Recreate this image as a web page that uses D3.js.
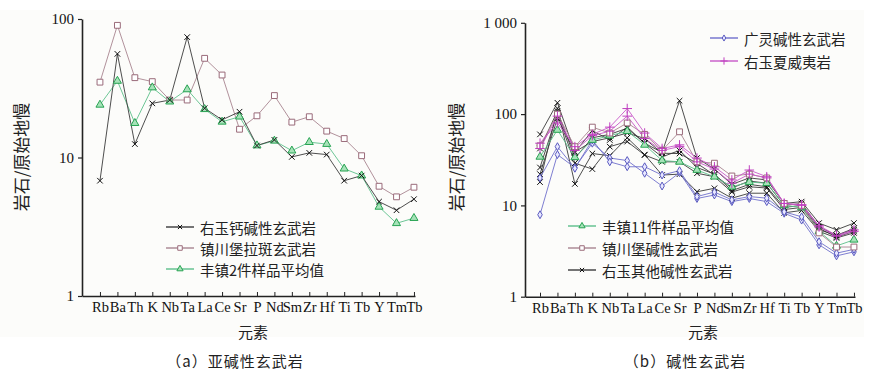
<!doctype html>
<html>
<head>
<meta charset="utf-8">
<script src="https://d3js.org/d3.v7.min.js"></script>
<style>
  body { margin: 0; background: #fff; }
  text { font-family: "Liberation Serif", "DejaVu Serif", serif; }
  .cjk { font-family: "Noto Sans CJK SC", sans-serif; }
</style>
</head>
<body>
<script>
  // 元素 (x 轴)
  var elements = ["Rb","Ba","Th","K","Nb","Ta","La","Ce","Sr","P","Nd","Sm","Zr","Hf","Ti","Tb","Y","Tm","Tb"];

  // (a) 亚碱性玄武岩
  var youyuCalcAlkaline = [6.8, 56, 12.5, 24.6, 26, 74, 22.7, 18.7, 21.4, 12.2, 13.4, 10.1, 10.8, 10.5, 6.8, 7.4, 4.8, 4.16, 5.0];
  var zhenchuanTholeiite = [35, 90, 37.7, 35.3, 26, 26, 52, 39.4, 16, 20, 28, 18, 19.7, 15.5, 13.7, 10.3, 6.2, 5.2, 6.1];
  var fengzhen2Avg = [24, 35.7, 17.7, 32, 25.3, 31, 22.3, 18.1, 19.7, 12.2, 13.2, 11.2, 12.9, 12.5, 8.3, 7.4, 4.4, 3.35, 3.65];

  // (b) 碱性玄武岩
  var guanglingA = [7.9, 36, 26, 48, 33, 31, 22.5, 16.3, 22.8, 11.9, 13, 11, 11.9, 11, 8.2, 6.9, 3.7, 2.8, 3.1];
  var guanglingB = [20, 44, 25.5, 52, 30, 26.5, 26.5, 21.5, 24, 12.5, 14, 11.5, 12.5, 12, 8.5, 7.5, 4.0, 3.0, 3.3];
  var youyuHawaiiteA = [48, 80, 44, 60, 72, 115, 62, 42, 46, 33, 26.5, 19, 24.4, 20.6, 10.5, 10.2, 6.0, 4.7, 5.4];
  var youyuHawaiiteB = [42, 95, 40, 58, 65, 95, 54, 40, 44, 30, 25, 17.5, 22, 20, 10.5, 10, 5.8, 4.6, 5.2];
  var fengzhen11Avg = [34, 67, 33.6, 52, 58, 65, 46, 31, 30, 24.4, 20.6, 16, 18, 17.5, 10, 9.5, 5.2, 3.6, 4.2];
  var zhenchuanAlkaline = [45, 100, 44, 72, 62, 80, 60, 40, 64, 30, 29, 21, 22, 20, 10.5, 10, 5.0, 3.5, 3.5];
  var youyuOtherA = [60, 133, 38, 66, 52, 72, 48, 38, 140, 33, 25, 17, 20, 19, 10.5, 11, 6.4, 5.4, 6.4];
  var youyuOtherB = [18, 116, 17.2, 37, 35, 55, 36, 21.5, 22, 14.1, 15.4, 12, 13.6, 13.6, 8.3, 8.8, 5.2, 4.4, 5.0];
  var youyuOtherC = [26, 102, 29, 25, 44, 50, 35.6, 30, 30, 22.5, 20.6, 14, 16, 15.5, 9, 9.5, 5.4, 4.7, 5.4];
  var youyuOtherD = [22, 90, 38.7, 50, 55, 62, 54, 37.2, 37, 28.9, 21.5, 15.5, 18.5, 17.5, 10, 10.5, 5.8, 4.7, 5.6];
  var youyuOtherE = [42, 108, 33, 55, 60, 70, 48, 34, 40, 26, 22, 14.5, 17, 16, 9.5, 10, 5.6, 4.5, 5.2];

  var yTicksA = [1, 10, 100];
  var yTicksB = [1, 10, 100, 1000];

  // 样式
  var styles = {
    black:   { line: "#3a3a3a", stroke: "#111", fill: "none", symbol: d3.symbolTimes, size: 22 },
    mauve:   { line: "#a88590", stroke: "#9a6b7a", fill: "#fff", symbol: d3.symbolSquare, size: 34 },
    green:   { line: "#5cbf8a", stroke: "#27a352", fill: "#a6e2b8", symbol: d3.symbolTriangle, size: 28 },
    blue:    { line: "#6f6fcc", stroke: "#5a5ac0", fill: "#e8e8ff", symbol: d3.symbolDiamond, size: 18 },
    magenta: { line: "#c858c8", stroke: "#c040c0", fill: "none", symbol: d3.symbolPlus, size: 32 }
  };

  var width = 871, height = 372;

  var svg = d3.select("body").append("svg")
    .attr("width", width)
    .attr("height", height);

  svg.append("rect").attr("x", 0).attr("y", 10).attr("width", 864).attr("height", 327).attr("fill", "#fcfcfa");

  function drawMarker(g, st, x, y) {
    g.append("path")
      .attr("transform", "translate(" + x + "," + y + ")")
      .attr("d", d3.symbol().type(st.symbol).size(st.size)())
      .attr("fill", st.fill)
      .attr("stroke", st.stroke)
      .attr("stroke-width", 1);
  }

  function drawPanel(cfg) {
    var g = svg.append("g");

    var x = d3.scaleLinear().domain(cfg.xDomain).range(cfg.xRange);
    var y = d3.scaleLog().domain(cfg.yDomain).range(cfg.yRange);

    // y 轴
    g.append("g")
      .attr("transform", "translate(" + cfg.xRange[0] + ",0)")
      .call(d3.axisLeft(y).tickValues(cfg.yTicks).tickSize(4).tickSizeOuter(0).tickPadding(4)
        .tickFormat(function(d){ return d === 1000 ? "1 000" : d; }))
      .call(function(a){
        a.select(".domain").attr("stroke", "#222").attr("stroke-width", 1.6);
        a.selectAll("line").attr("stroke", "#222").attr("stroke-width", 1.2);
        a.selectAll("text").attr("font-family", "Liberation Serif").attr("font-size", 15).attr("fill", "#111");
      });

    // x 轴 (刻度朝上)
    g.append("g")
      .attr("transform", "translate(0," + cfg.yRange[0] + ")")
      .call(d3.axisBottom(x).tickValues(d3.range(elements.length)).tickSize(-4).tickSizeOuter(0).tickPadding(6)
        .tickFormat(function(i){ return elements[i]; }))
      .call(function(a){
        a.select(".domain").attr("stroke", "#222").attr("stroke-width", 1.6);
        a.selectAll("line").attr("stroke", "#222");
        a.selectAll("text").attr("font-family", "Liberation Serif").attr("font-size", 14.5).attr("fill", "#111");
      });

    var line = d3.line()
      .x(function(d, i){ return x(i); })
      .y(function(d){ return y(d); });

    cfg.series.forEach(function(s) {
      var st = styles[s.style];
      g.append("path")
        .datum(s.values)
        .attr("d", line)
        .attr("fill", "none")
        .attr("stroke", st.line)
        .attr("stroke-width", 0.9);
    });
    cfg.series.forEach(function(s) {
      var st = styles[s.style];
      s.values.forEach(function(v, i){ drawMarker(g, st, x(i), y(v)); });
    });

    // 图例
    cfg.legends.forEach(function(l) {
      l.items.forEach(function(it, k) {
        var st = styles[it.style];
        var ly = l.y + k * l.dy;
        g.append("line")
          .attr("x1", l.x).attr("x2", l.x + 28)
          .attr("y1", ly).attr("y2", ly)
          .attr("stroke", st.line).attr("stroke-width", 1.4);
        drawMarker(g, { symbol: st.symbol, size: st.size * 0.6, fill: st.fill, stroke: st.stroke }, l.x + 14, ly);
        g.append("text")
          .attr("class", "cjk")
          .attr("x", l.x + 34).attr("y", ly)
          .attr("dominant-baseline", "central")
          .attr("font-size", 14.5)
          .attr("fill", "#222")
          .text(it.label);
      });
    });

    // 轴标题
    g.append("text")
      .attr("class", "cjk")
      .attr("transform", "translate(" + cfg.yTitleX + ",157) rotate(-90)")
      .attr("text-anchor", "middle")
      .attr("dominant-baseline", "central")
      .attr("font-size", 17)
      .attr("fill", "#222")
      .text("岩石/原始地慢");

    g.append("text")
      .attr("class", "cjk")
      .attr("x", cfg.xTitleX).attr("y", 331)
      .attr("text-anchor", "middle")
      .attr("dominant-baseline", "central")
      .attr("font-size", 15)
      .attr("fill", "#222")
      .text("元素");

    g.append("text")
      .attr("class", "cjk")
      .attr("x", cfg.captionX).attr("y", 360)
      .attr("text-anchor", "middle")
      .attr("dominant-baseline", "central")
      .attr("font-size", 15)
      .attr("letter-spacing", 1)
      .attr("fill", "#222")
      .text(cfg.caption);
  }

  drawPanel({
    xDomain: [-1.03, 18.06], xRange: [82, 415],
    yDomain: [1, 100], yRange: [296, 19], yTicks: yTicksA,
    yTitleX: 20, xTitleX: 253, captionX: 235,
    caption: "（a）亚碱性玄武岩",
    series: [
      { style: "mauve", values: zhenchuanTholeiite },
      { style: "green", values: fengzhen2Avg },
      { style: "black", values: youyuCalcAlkaline }
    ],
    legends: [
      { x: 166, y: 227, dy: 21, items: [
        { style: "black", label: "右玉钙碱性玄武岩" },
        { style: "mauve", label: "镇川堡拉斑玄武岩" },
        { style: "green", label: "丰镇2件样品平均值" }
      ]}
    ]
  });

  drawPanel({
    xDomain: [-0.86, 18.06], xRange: [525, 855],
    yDomain: [1, 1000], yRange: [296.7, 22.8], yTicks: yTicksB,
    yTitleX: 455, xTitleX: 703, captionX: 685,
    caption: "（b）碱性玄武岩",
    series: [
      { style: "black", values: youyuOtherA },
      { style: "black", values: youyuOtherB },
      { style: "black", values: youyuOtherC },
      { style: "black", values: youyuOtherD },
      { style: "black", values: youyuOtherE },
      { style: "blue", values: guanglingA },
      { style: "blue", values: guanglingB },
      { style: "green", values: fengzhen11Avg },
      { style: "mauve", values: zhenchuanAlkaline },
      { style: "magenta", values: youyuHawaiiteB },
      { style: "magenta", values: youyuHawaiiteA }
    ],
    legends: [
      { x: 710, y: 38, dy: 23, items: [
        { style: "blue", label: "广灵碱性玄武岩" },
        { style: "magenta", label: "右玉夏威夷岩" }
      ]},
      { x: 568, y: 226, dy: 22, items: [
        { style: "green", label: "丰镇11件样品平均值" },
        { style: "mauve", label: "镇川堡碱性玄武岩" },
        { style: "black", label: "右玉其他碱性玄武岩" }
      ]}
    ]
  });
</script>
</body>
</html>
